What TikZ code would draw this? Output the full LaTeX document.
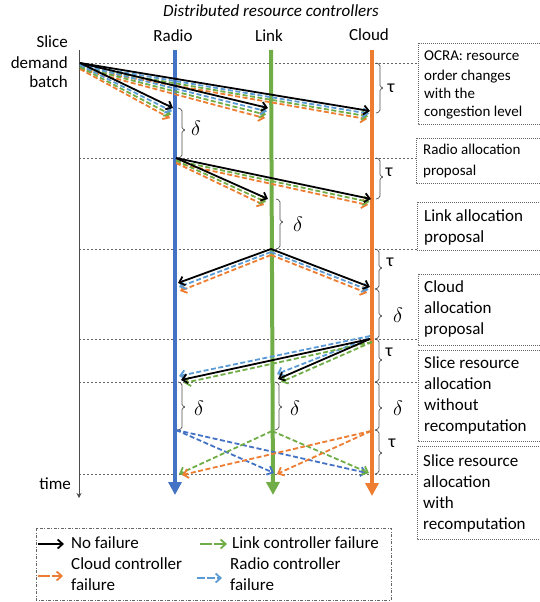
\documentclass[tikz,border=0pt]{standalone}
\usepackage{fontspec}
\setmainfont{Carlito}
\usetikzlibrary{arrows.meta,calc}
\definecolor{cblue}{HTML}{4472C4}
\definecolor{cblue2}{HTML}{5B9BD5}
\definecolor{cgreen}{HTML}{70AD47}
\definecolor{corange}{HTML}{ED7D31}
\newcommand\mybrace[4]{\draw[brk,rounded corners=1.5pt] (#1-4,#2) -- (#1,#2+1.5) -- (#1,#4-1) -- (#1+4,#4) -- (#1,#4+1) -- (#1,#3-1.5) -- (#1-4,#3);}
\begin{document}
\begin{tikzpicture}[x=1pt,y=-1pt,
  ctrl/.style={line width=4pt,-{Triangle[length=13pt,width=13pt]}},
  barb/.style={-{Straight Barb[length=5pt,width=9pt]}},
  solidarr/.style={barb,black,line width=1.8pt},
  dasharr/.style={barb,line width=1.8pt,dash pattern=on 5pt off 2.5pt},
  gridline/.style={gray!80!black,line width=0.7pt,dash pattern=on 2pt off 2pt},
  brk/.style={gray!60!black,line width=0.7pt},
  infobox/.style={gray!80!black,line width=0.7pt,dash pattern=on 1pt off 1pt},
  lbl/.style={font=\fontsize{17}{21}\selectfont,inner sep=0pt},
  smalllbl/.style={font=\fontsize{15}{18}\selectfont,inner sep=0pt},
  dl/.style={font=\fontsize{22}{24}\selectfont,inner sep=0pt},
  tl/.style={font=\fontsize{18}{22}\selectfont,inner sep=0pt},
]
\useasboundingbox (0,0) rectangle (540,602);
\clip (0,0) rectangle (540,602);

% title and labels
\node[lbl,font=\fontsize{17}{21}\selectfont\itshape,anchor=base] (title) at (271,17) {Distributed resource controllers};
\node[lbl,anchor=base] (lradio) at (173,42) {Radio};
\node[lbl,anchor=base] (llink) at (269,42) {Link};
\node[lbl,anchor=base] (lcloud) at (369,41) {Cloud};
\node[lbl,anchor=base east] (ls1) at (68,48) {Slice};
\node[lbl,anchor=base east] (ls2) at (68,68) {demand};
\node[lbl,anchor=base east] (ls3) at (68,88) {batch};
\node[lbl,anchor=base east] (ltime) at (71,489) {time};

% grid lines
\foreach \yy/\xe in {63/418,158/416,249/417,339/418,382/418,474/416}
  \draw[gridline] (79,\yy) -- (\xe,\yy);

% time axis
\coordinate (T0) at (79,50);
\coordinate (T1) at (79,498);
\draw[gray!60!black,line width=0.8pt,-{Stealth[length=5pt,width=5pt]}] (T0) -- (T1);

% controllers
\coordinate (RT) at (175,50); \coordinate (RB) at (175,495);
\coordinate (LT) at (271,50); \coordinate (LB) at (273,495);
\coordinate (CT) at (372,50); \coordinate (CB) at (372,496);
\draw[ctrl,cblue] (RT) -- (RB);
\draw[ctrl,cgreen] (LT) -- (LB);
\draw[ctrl,corange] (CT) -- (CB);

% braces
\mybrace{380}{63}{113}{88}
\mybrace{182}{108}{158}{130}
\mybrace{380}{158}{199}{177}
\mybrace{280}{199}{249}{222}
\mybrace{379}{249}{289}{268}
\mybrace{379}{289}{339}{316}
\mybrace{379}{339}{382}{360}
\mybrace{182}{382}{430}{407}
\mybrace{279}{382}{430}{407}
\mybrace{379}{382}{430}{408}
\mybrace{379}{430}{474}{453}
\node[tl] (t1) at (391,88) {τ};
\node[dl] (d1) at (196,128) {$\delta$};
\node[tl] (t2) at (389,172) {τ};
\node[dl] (d2) at (298,224) {$\delta$};
\node[tl] (t3) at (390,262) {τ};
\node[dl] (d3) at (398,315) {$\delta$};
\node[tl] (t4) at (389,352) {τ};
\node[dl] (d4) at (199,408) {$\delta$};
\node[dl] (d5) at (295,408) {$\delta$};
\node[dl] (d6) at (398,408) {$\delta$};
\node[tl] (t5) at (392,443) {τ};

% phase 1
\coordinate (S0) at (80,63);
\coordinate (R1) at (173,108);
\coordinate (L1) at (268,108);
\coordinate (C1) at (370,111);
\foreach \c/\k in {corange/3,cgreen/2,cblue2/1} {
  \draw[dasharr,\c] ($(S0)+(0,2*\k)$) -- ($(R1)+(-\k,3.4*\k)$);
  \draw[dasharr,\c] ($(S0)+(0,2*\k)$) -- ($(L1)+(-\k,3.4*\k)$);
  \draw[dasharr,\c] ($(S0)+(0,2*\k)$) -- ($(C1)+(-\k,2.7*\k)$);
}
\draw[solidarr] (S0) -- (R1);
\draw[solidarr] (S0) -- (L1);
\draw[solidarr] (S0) -- (C1);

% phase 2
\coordinate (R2) at (176,158);
\coordinate (L2) at (268,199);
\coordinate (C2) at (371,199);
\foreach \c/\k in {corange/2,cgreen/1} {
  \draw[dasharr,\c] ($(R2)+(0,2.5*\k)$) -- ($(L2)+(-2*\k,3*\k)$);
  \draw[dasharr,\c] ($(R2)+(0,2.5*\k)$) -- ($(C2)+(-1.5*\k,3*\k)$);
}
\draw[solidarr] (R2) -- (L2);
\draw[solidarr] (R2) -- (C2);

% phase 3
\coordinate (L3) at (271,249);
\coordinate (R3) at (178,283);
\coordinate (C3) at (370,287);
\foreach \c/\k in {corange/2,cblue2/1} {
  \draw[dasharr,\c] ($(L3)+(0,3*\k)$) -- ($(R3)+(\k,4*\k)$);
  \draw[dasharr,\c] ($(L3)+(0,3*\k)$) -- ($(C3)+(-1.5*\k,3*\k)$);
}
\draw[solidarr] (L3) -- (R3);
\draw[solidarr] (L3) -- (C3);

% phase 4
\coordinate (C4) at (370,339);
\coordinate (R4) at (181,380);
\coordinate (L4) at (278,379);
\draw[dasharr,cblue2] ($(C4)+(0,-3)$) -- ($(R4)+(-2,-4)$);
\draw[dasharr,cblue2] ($(C4)+(-1,-1)$) -- ($(L4)+(-1,-5)$);
\draw[dasharr,cgreen] ($(C4)+(2,3)$) -- ($(R4)+(3,3)$);
\draw[dasharr,cgreen] ($(C4)+(2,3)$) -- ($(L4)+(3,3)$);
\draw[solidarr] (C4) -- (R4);
\draw[solidarr] (C4) -- (L4);

% phase 5
\coordinate (R5) at (176,430);
\coordinate (L5) at (272,431);
\coordinate (C5) at (371,431);
\coordinate (RE) at (179,474);
\coordinate (LE) at (274,473);
\coordinate (CE) at (369,473);
\draw[dasharr,cblue] (R5) -- (LE);
\draw[dasharr,cblue] (R5) -- ($(CE)+(-2,0)$);
\draw[dasharr,cgreen] (L5) -- (RE);
\draw[dasharr,cgreen] (L5) -- (CE);
\draw[dasharr,corange] (C5) -- ($(RE)+(3,1)$);
\draw[dasharr,corange] (C5) -- ($(LE)+(3,1)$);

% info boxes
\draw[infobox] (418,43) rectangle (545,124);
\node[smalllbl,anchor=base west] (b1a) at (424,61) {OCRA: resource};
\node[smalllbl,anchor=base west] (b1b) at (424,80) {order changes};
\node[smalllbl,anchor=base west] (b1c) at (424,98) {with the};
\node[smalllbl,anchor=base west] (b1d) at (424,116) {congestion level};

\draw[infobox] (416,138) rectangle (545,183);
\node[smalllbl,anchor=base west] (b2a) at (423,154) {Radio allocation};
\node[smalllbl,anchor=base west] (b2b) at (423,175) {proposal};

\draw[infobox] (417,202) rectangle (545,250);
\node[lbl,anchor=base west] (b3a) at (424,221) {Link allocation};
\node[lbl,anchor=base west] (b3b) at (424,242) {proposal};

\draw[infobox] (418,274) rectangle (545,345);
\node[lbl,anchor=base west] (b4a) at (424,292) {Cloud};
\node[lbl,anchor=base west] (b4b) at (424,313) {allocation};
\node[lbl,anchor=base west] (b4c) at (424,334) {proposal};

\draw[infobox] (418,350) rectangle (545,441);
\node[lbl,anchor=base west] (b5a) at (424,368) {Slice resource};
\node[lbl,anchor=base west] (b5b) at (424,389) {allocation};
\node[lbl,anchor=base west] (b5c) at (424,410) {without};
\node[lbl,anchor=base west] (b5d) at (424,431) {recomputation};

\draw[infobox] (417,446) rectangle (545,539);
\node[lbl,anchor=base west] (b6a) at (423,466) {Slice resource};
\node[lbl,anchor=base west] (b6b) at (423,487) {allocation};
\node[lbl,anchor=base west] (b6c) at (423,508) {with};
\node[lbl,anchor=base west] (b6d) at (423,529) {recomputation};

% legend
\draw[gray!80!black,line width=0.7pt,dash pattern=on 3pt off 1.5pt on 1pt off 1.5pt] (36,528) rectangle (391,600);
\coordinate (g1a) at (38,544); \coordinate (g1b) at (64,544);
\coordinate (g2a) at (200,544); \coordinate (g2b) at (227,544);
\coordinate (g3a) at (38,576); \coordinate (g3b) at (63,576);
\coordinate (g4a) at (197,578); \coordinate (g4b) at (222,578);
\draw[solidarr] (g1a) -- (g1b);
\draw[barb,line width=1.8pt,cgreen,dash pattern=on 12pt off 2pt] (g2a) -- (g2b);
\draw[barb,line width=1.8pt,corange,dash pattern=on 12pt off 2pt] (g3a) -- (g3b);
\draw[barb,line width=1.8pt,cblue2,dash pattern=on 8pt off 2pt] (g4a) -- (g4b);
\node[lbl,anchor=base west] (n1) at (71,548) {No failure};
\node[lbl,anchor=base west] (n2) at (232,548) {Link controller failure};
\node[lbl,anchor=base west] (n3a) at (71,569) {Cloud controller};
\node[lbl,anchor=base west] (n3b) at (71,590) {failure};
\node[lbl,anchor=base west] (n4a) at (230,569) {Radio controller};
\node[lbl,anchor=base west] (n4b) at (230,590) {failure};
\end{tikzpicture}
\end{document}
